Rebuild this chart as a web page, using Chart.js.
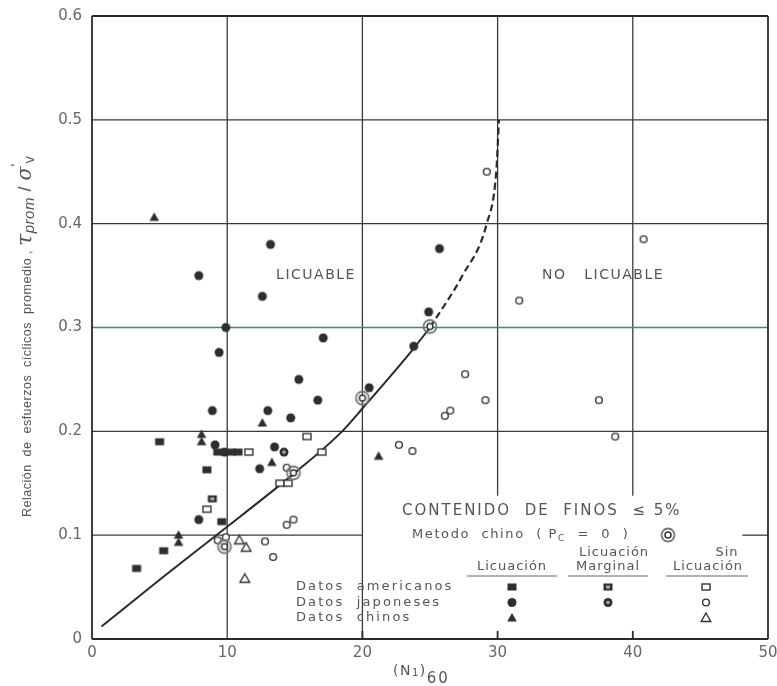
<!DOCTYPE html>
<html>
<head>
<meta charset="utf-8">
<script src="https://cdn.jsdelivr.net/npm/chart.js@4"></script>
<style>
  body { margin: 0; background: #fff; }
  canvas { display: block; }
</style>
</head>
<body>
<canvas id="chart" width="777" height="686"></canvas>
<script>
// axis ticks
const xTicks = [0, 10, 20, 30, 40, 50];
const xTickLabels = ["0", "10", "20", "30", "40", "50"];
const yTicks = [0, 0.1, 0.2, 0.3, 0.4, 0.5, 0.6];
const yTickLabels = ["0", "0.1", "0.2", "0.3", "0.4", "0.5", "0.6"];

// [(N1)60, tau/sigma'v]
const amerLiq = [[3.3, 0.068], [5.3, 0.085], [5.0, 0.19], [8.5, 0.163], [9.3, 0.18], [10.3, 0.18], [10.8, 0.18], [9.6, 0.113]];
const amerMarg = [[8.9, 0.135]];
const amerNo = [[11.6, 0.18], [15.9, 0.195], [13.9, 0.15], [14.5, 0.15], [8.5, 0.125], [17.0, 0.18]];
const japLiq = [[7.9, 0.35], [12.6, 0.33], [13.2, 0.38], [9.9, 0.3], [9.4, 0.276], [8.9, 0.22], [13.0, 0.22],
  [9.1, 0.187], [9.8, 0.18], [13.5, 0.185], [12.4, 0.164], [14.7, 0.213], [15.3, 0.25], [16.7, 0.23],
  [17.1, 0.29], [20.5, 0.242], [23.8, 0.282], [24.9, 0.315], [25.7, 0.376], [7.9, 0.115]];
const japMarg = [[14.2, 0.18]];
const japNo = [[29.2, 0.45], [31.6, 0.326], [40.8, 0.385], [27.6, 0.255], [29.1, 0.23], [37.5, 0.23],
  [26.1, 0.215], [26.5, 0.22], [38.7, 0.195], [22.7, 0.187], [23.7, 0.181], [14.4, 0.11], [14.9, 0.115],
  [9.3, 0.095], [9.9, 0.098], [12.8, 0.094], [13.4, 0.079], [14.4, 0.165]];
const chiLiq = [[4.6, 0.406], [12.6, 0.208], [8.1, 0.197], [8.1, 0.19], [13.3, 0.17], [21.2, 0.176], [6.4, 0.1], [6.4, 0.093]];
const chiNo = [[10.9, 0.095], [11.4, 0.088], [11.3, 0.058]];
const chinoMethod = [[9.8, 0.089], [14.9, 0.16], [20.0, 0.232], [25.0, 0.301]];

// boundary curve
const curveSolid = [[0.7, 0.012], [5, 0.057], [9.2, 0.1], [15, 0.16], [18.5, 0.2], [20, 0.222], [23.8, 0.28], [25, 0.3]];
const curveDashed = [[25, 0.3], [27.4, 0.35], [29.2, 0.4], [29.9, 0.45], [30.1, 0.5]];

const ink = "#2e2e2e";
const textGray = "#555";

function drawSymbol(g, kind, x, y) {
    g.save();
    g.lineWidth = 1.4;
    g.strokeStyle = "#333";
    g.fillStyle = ink;
    if (kind === "sqFull") {
        g.fillRect(x - 4.5, y - 3.5, 9, 7);
    } else if (kind === "sqHalf") {
        g.fillRect(x - 4.5, y - 3.5, 9, 7);
        g.fillStyle = "#aaa";
        g.fillRect(x - 2, y - 1.5, 4, 3);
    } else if (kind === "sqOpen") {
        g.fillStyle = "#fff";
        g.fillRect(x - 4, y - 3, 8, 6);
        g.strokeRect(x - 4, y - 3, 8, 6);
    } else if (kind === "ciFull") {
        g.beginPath(); g.arc(x, y, 4.5, 0, Math.PI * 2); g.fill();
    } else if (kind === "ciHalf") {
        g.beginPath(); g.arc(x, y, 4.5, 0, Math.PI * 2); g.fill();
        g.fillStyle = "#aaa";
        g.beginPath(); g.arc(x, y, 1.8, 0, Math.PI * 2); g.fill();
    } else if (kind === "ciOpen") {
        g.fillStyle = "#fff";
        g.beginPath(); g.arc(x, y, 3.4, 0, Math.PI * 2); g.fill(); g.stroke();
    } else if (kind === "trFull" || kind === "trOpen") {
        g.beginPath();
        g.moveTo(x, y - 5); g.lineTo(x + 4.8, y + 3.5); g.lineTo(x - 4.8, y + 3.5); g.closePath();
        if (kind === "trFull") g.fill();
        else { g.fillStyle = "#fff"; g.fill(); g.stroke(); }
    } else if (kind === "dbl") {
        g.strokeStyle = "#777";
        g.lineWidth = 1.8;
        g.beginPath(); g.arc(x, y, 6.5, 0, Math.PI * 2); g.stroke();
        g.strokeStyle = "#333";
        g.lineWidth = 1.5;
        g.fillStyle = "#fff";
        g.beginPath(); g.arc(x, y, 3, 0, Math.PI * 2); g.fill(); g.stroke();
    }
    g.restore();
}

function makeSymbol(kind) {
    const c = document.createElement("canvas");
    c.width = 18;
    c.height = 18;
    drawSymbol(c.getContext("2d"), kind, 9, 9);
    return c;
}

function pts(arr) {
    return arr.map(p => ({ x: p[0], y: p[1] }));
}

function scatterSet(label, arr, kind) {
    return {
        label: label,
        data: pts(arr),
        pointStyle: makeSymbol(kind),
        pointRadius: 5,
        showLine: false
    };
}

// draw text centred on x, measured by hand (letterSpacing + center is unreliable)
function centerText(ctx, txt, x, y) {
    const w = ctx.measureText(txt).width;
    ctx.textAlign = "left";
    ctx.fillText(txt, x - w / 2, y);
}

// grid, frame, titles and the symbol table
const paperPlugin = {
    id: "paper",
    beforeDatasetsDraw(chart) {
        const ctx = chart.ctx;
        const xs = chart.scales.x, ys = chart.scales.y;
        const X = v => xs.getPixelForValue(v);
        const Y = v => ys.getPixelForValue(v);
        function line(x1, y1, x2, y2, color, w) {
            ctx.beginPath();
            ctx.strokeStyle = color || "#3a3a3a";
            ctx.lineWidth = w || 1.3;
            ctx.moveTo(X(x1), Y(y1));
            ctx.lineTo(X(x2), Y(y2));
            ctx.stroke();
        }
        ctx.save();
        // vertical grid
        line(10, 0, 10, 0.6);
        line(20, 0, 20, 0.6);
        line(30, 0.138, 30, 0.6);
        line(40, 0.138, 40, 0.6);
        // horizontal grid
        line(0, 0.1, 20, 0.1);
        line(0, 0.2, 50, 0.2);
        line(0, 0.3, 50, 0.3, "#4f7f80");
        line(0, 0.4, 50, 0.4);
        line(0, 0.5, 50, 0.5);
        line(48.1, 0.1, 50, 0.1);
        // frame
        line(0, 0, 0, 0.6, "#2a2a2a", 1.8);
        line(0, 0.6, 50, 0.6, "#2a2a2a", 1.8);
        line(50, 0, 50, 0.6, "#2a2a2a", 1.8);
        line(0, 0, 50, 0, "#2a2a2a", 1.8);
        // small ticks on bottom axis
        [20, 30, 40].forEach(v => {
            ctx.beginPath();
            ctx.moveTo(X(v), Y(0));
            ctx.lineTo(X(v), Y(0) - 8);
            ctx.stroke();
        });
        ctx.restore();
    },
    afterDraw(chart) {
        const ctx = chart.ctx;
        ctx.save();
        ctx.fillStyle = textGray;
        ctx.textBaseline = "middle";

        // region labels
        ctx.font = "14px 'DejaVu Sans'";
        ctx.letterSpacing = "1.5px";
        centerText(ctx, "LICUABLE", 316, 275);
        centerText(ctx, "NO   LICUABLE", 603, 275);

        // y title (rotated, with symbols)
        ctx.save();
        ctx.translate(28, 517);
        ctx.rotate(-Math.PI / 2);
        ctx.textAlign = "left";
        ctx.letterSpacing = "0.5px";
        let cx = 0;
        function part(txt, font, dy) {
            ctx.font = font;
            ctx.fillText(txt, cx, dy || 0);
            cx += ctx.measureText(txt).width;
        }
        part("Relación  de  esfuerzos  cíclicos  promedio , ", "12.5px 'Liberation Sans'");
        ctx.letterSpacing = "0.5px";
        part("τ", "italic 22px 'DejaVu Serif'", -2);
        part("prom", "italic 15px 'Liberation Sans'", 2);
        part(" / ", "18px 'Liberation Sans'", -2);
        part("σ", "italic 20px 'DejaVu Serif'", -2);
        part("'", "14px 'Liberation Sans'", -11);
        part("v", "14px 'Liberation Sans'", 2);
        ctx.restore();

        // x title (N1)60
        ctx.letterSpacing = "1.5px";
        let tx = 393;
        function xpart(txt, font, dy) {
            ctx.font = font;
            ctx.textAlign = "left";
            ctx.fillText(txt, tx, 671 + (dy || 0));
            tx += ctx.measureText(txt).width;
        }
        xpart("(N", "14px 'DejaVu Sans'");
        xpart("1", "10px 'DejaVu Sans'", 2);
        xpart(")", "14px 'DejaVu Sans'");
        ctx.letterSpacing = "2px";
        xpart("60", "15px 'DejaVu Sans'", 8);

        // symbol table
        ctx.textAlign = "left";
        ctx.font = "15px 'DejaVu Sans'";
        ctx.letterSpacing = "2px";
        ctx.fillText("CONTENIDO  DE  FINOS  \u2264 5%", 402, 511);
        ctx.font = "13px 'DejaVu Sans'";
        ctx.letterSpacing = "1.6px";
        tx = 412;
        ctx.fillText("Metodo  chino  ( P", tx, 535);
        tx += ctx.measureText("Metodo  chino  ( P").width;
        ctx.font = "9px 'DejaVu Sans'";
        ctx.fillText("C", tx, 539);
        tx += ctx.measureText("C").width;
        ctx.font = "13px 'DejaVu Sans'";
        ctx.fillText("  =  0  )", tx, 535);
        drawSymbol(ctx, "dbl", 668, 535);

        ctx.font = "13px 'DejaVu Sans'";
        ctx.letterSpacing = "1px";
        centerText(ctx, "Licuación", 614, 553);
        centerText(ctx, "Sin", 727, 553);
        centerText(ctx, "Licuación", 512, 567);
        centerText(ctx, "Marginal", 608, 567);
        centerText(ctx, "Licuación", 708, 567);
        ctx.strokeStyle = "#666";
        ctx.lineWidth = 1.2;
        [[467, 557], [568, 648], [666, 748]].forEach(u => {
            ctx.beginPath();
            ctx.moveTo(u[0], 576);
            ctx.lineTo(u[1], 576);
            ctx.stroke();
        });

        ctx.textAlign = "left";
        ctx.letterSpacing = "2.1px";
        const rows = [["Datos  americanos", "sqFull", "sqHalf", "sqOpen"],
                      ["Datos  japoneses", "ciFull", "ciHalf", "ciOpen"],
                      ["Datos  chinos", "trFull", null, "trOpen"]];
        rows.forEach((r, i) => {
            const y = 587 + i * 15.5;
            ctx.fillText(r[0], 296, y);
            if (r[1]) drawSymbol(ctx, r[1], 512, y);
            if (r[2]) drawSymbol(ctx, r[2], 608, y);
            if (r[3]) drawSymbol(ctx, r[3], 706, y);
        });
        ctx.restore();
    }
};

const chart = new Chart(document.getElementById("chart"), {
    type: "scatter",
    data: {
        datasets: [
            scatterSet("Metodo chino", chinoMethod, "dbl"),
            scatterSet("Americanos licuación", amerLiq, "sqFull"),
            scatterSet("Americanos marginal", amerMarg, "sqHalf"),
            scatterSet("Americanos sin licuación", amerNo, "sqOpen"),
            scatterSet("Japoneses licuación", japLiq, "ciFull"),
            scatterSet("Japoneses marginal", japMarg, "ciHalf"),
            scatterSet("Japoneses sin licuación", japNo, "ciOpen"),
            scatterSet("Chinos licuación", chiLiq, "trFull"),
            scatterSet("Chinos sin licuación", chiNo, "trOpen"),
            {
                label: "Límite",
                data: pts(curveSolid),
                showLine: true,
                borderColor: "#2a2a2a",
                borderWidth: 2,
                pointRadius: 0,
                cubicInterpolationMode: "monotone"
            },
            {
                label: "Límite (extrapolado)",
                data: pts(curveDashed),
                showLine: true,
                borderColor: "#2a2a2a",
                borderWidth: 2.2,
                borderDash: [7, 4],
                pointRadius: 0,
                cubicInterpolationMode: "monotone"
            }
        ]
    },
    options: {
        responsive: false,
        devicePixelRatio: 1,
        animation: false,
        layout: { padding: { top: 16, right: 9, left: 0, bottom: 0 } },
        plugins: {
            legend: { display: false },
            tooltip: { enabled: false }
        },
        scales: {
            x: {
                type: "linear",
                min: 0,
                max: 50,
                grid: { display: false },
                border: { display: false },
                afterBuildTicks: s => { s.ticks = xTicks.map(v => ({ value: v })); },
                afterFit: s => { s.height = 47; },
                ticks: {
                    color: "#666",
                    padding: -3,
                    font: { family: "'DejaVu Sans'", size: 15 },
                    callback: v => xTickLabels[xTicks.indexOf(v)]
                }
            },
            y: {
                type: "linear",
                min: 0,
                max: 0.6,
                grid: { display: false },
                border: { display: false },
                afterBuildTicks: s => { s.ticks = yTicks.map(v => ({ value: v })); },
                afterFit: s => { s.width = 92; },
                ticks: {
                    color: "#666",
                    padding: 2,
                    font: { family: "'DejaVu Sans'", size: 15 },
                    callback: v => yTickLabels[yTicks.findIndex(t => Math.abs(t - v) < 1e-9)]
                }
            }
        }
    },
    plugins: [paperPlugin]
});
</script>
</body>
</html>
